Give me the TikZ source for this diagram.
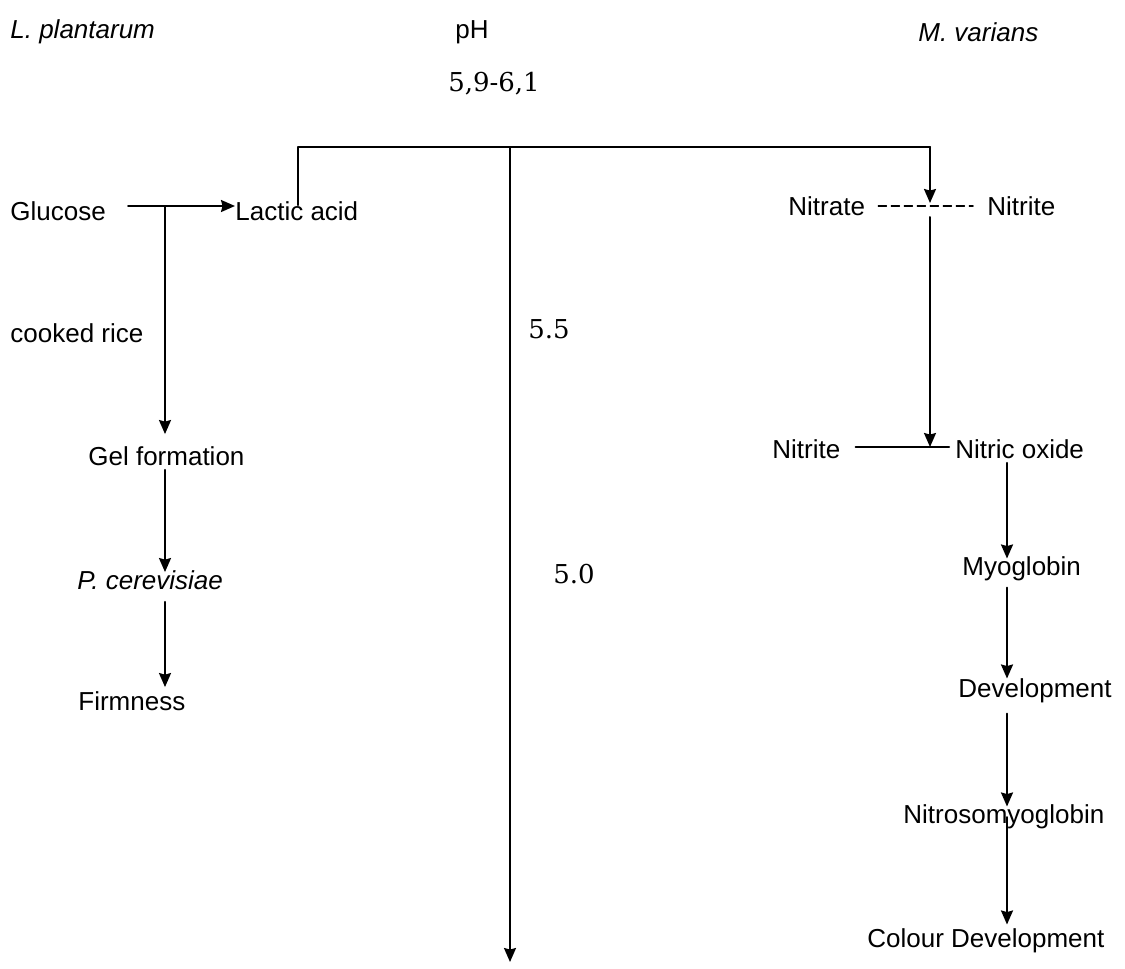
\documentclass[tikz,border=0pt]{standalone}
\usepackage{fontspec}
\setmainfont{Liberation Sans}
\newfontfamily\numfont{DejaVu Serif}
\usetikzlibrary{arrows.meta}
\begin{document}
\begin{tikzpicture}[x=0.5pt,y=-0.5pt, line join=round, line cap=round,
	font=\fontsize{13}{15}\selectfont, >={Stealth[length=7pt,width=6pt,inset=0.8pt]},
	lbl/.style={anchor=west,inner sep=0pt},
	num/.style={inner sep=0pt,font=\numfont\fontsize{13}{15}\selectfont},
	arr/.style={->,line width=1pt}]
	\useasboundingbox (0,0) rectangle (1125,969);
	% headings
	\node[lbl] (lpl) at (10,32) {\itshape L. plantarum};
	\node[inner sep=0pt] (ph) at (472,32) {pH};
	\node[lbl] (mvar) at (918,32) {\itshape M. varians};
	\node[num] (range) at (494,84) {5,9-6,1};
	% left column
	\node[lbl] (glu) at (10,211) {Glucose};
	\node[lbl] (lac) at (235,211) {Lactic acid};
	\node[lbl] (rice) at (10,333) {cooked rice};
	\node[lbl] (gel) at (88,456) {Gel formation};
	\node[lbl] (pcer) at (77,580) {\itshape P. cerevisiae};
	\node[lbl] (firm) at (78,701) {Firmness};
	% pH values
	\node[num,anchor=west] (p55) at (528,329) {5.5};
	\node[num,anchor=west] (p50) at (553,574) {5.0};
	% right column
	\node[lbl] (nat) at (788,206) {Nitrate};
	\node[lbl] (nita) at (987,206) {Nitrite};
	\node[lbl] (nitb) at (772,449) {Nitrite};
	\node[lbl] (nox) at (955,449) {Nitric oxide};
	\node[lbl] (myo) at (962,569) {Myoglobin};
	\node[lbl] (dev) at (958,691) {Development};
	\node[lbl] (nmb) at (903,817) {Nitrosomyoglobin};
	\node[lbl] (col) at (867,941) {Colour Development};
	\coordinate (brk) at (165,206);
	\coordinate (tl) at (298,147);
	\coordinate (tr) at (930,147);
	\coordinate (phtop) at (510,147);
	\coordinate (phend) at (510,962);
	\coordinate (nitx) at (930,206);
	\coordinate (rc) at (1007,0);
	% connectors
	\draw[arr] ([xshift=11pt,yshift=2.5pt]glu.east) -- ([yshift=2.5pt]lac.west);
	\draw[arr] (brk) -- ([yshift=6pt]brk |- gel.north);
	\draw[arr] ([yshift=-2pt]brk |- gel.south) -- ([yshift=-1pt]brk |- pcer.north);
	\draw[arr] ([yshift=-6pt]brk |- pcer.south) -- ([yshift=2pt]brk |- firm.north);
	\draw[line width=1pt] ([yshift=-2pt]tl |- lac.north) -- (tl) -- (tr);
	\draw[arr] (phtop) -- (phend);
	\draw[arr] (tr) -- ([yshift=1.5pt]nitx);
	\draw[dashed,line width=0.8pt,dash pattern=on 4pt off 2.5pt] ([xshift=6.5pt]nat.east) -- ([xshift=-7pt]nita.west);
	\draw[arr] ([yshift=-5.5pt]nitx) -- ([yshift=1pt]nitx |- nox.west);
	\draw[line width=1pt] ([xshift=7.5pt,yshift=1pt]nitb.east) -- ([xshift=-3pt,yshift=1pt]nox.west);
	\draw[arr] ([yshift=-2pt]rc |- nox.south) -- ([yshift=-1pt]rc |- myo.north);
	\draw[arr] ([yshift=-3pt]rc |- myo.south) -- ([yshift=0pt]rc |- dev.north);
	\draw[arr] ([yshift=-5pt]rc |- dev.south) -- ([yshift=-1pt]rc |- nmb.north);
	\draw[arr] (rc |- nmb.west) -- ([yshift=2pt]rc |- col.north);
\end{tikzpicture}
\end{document}
